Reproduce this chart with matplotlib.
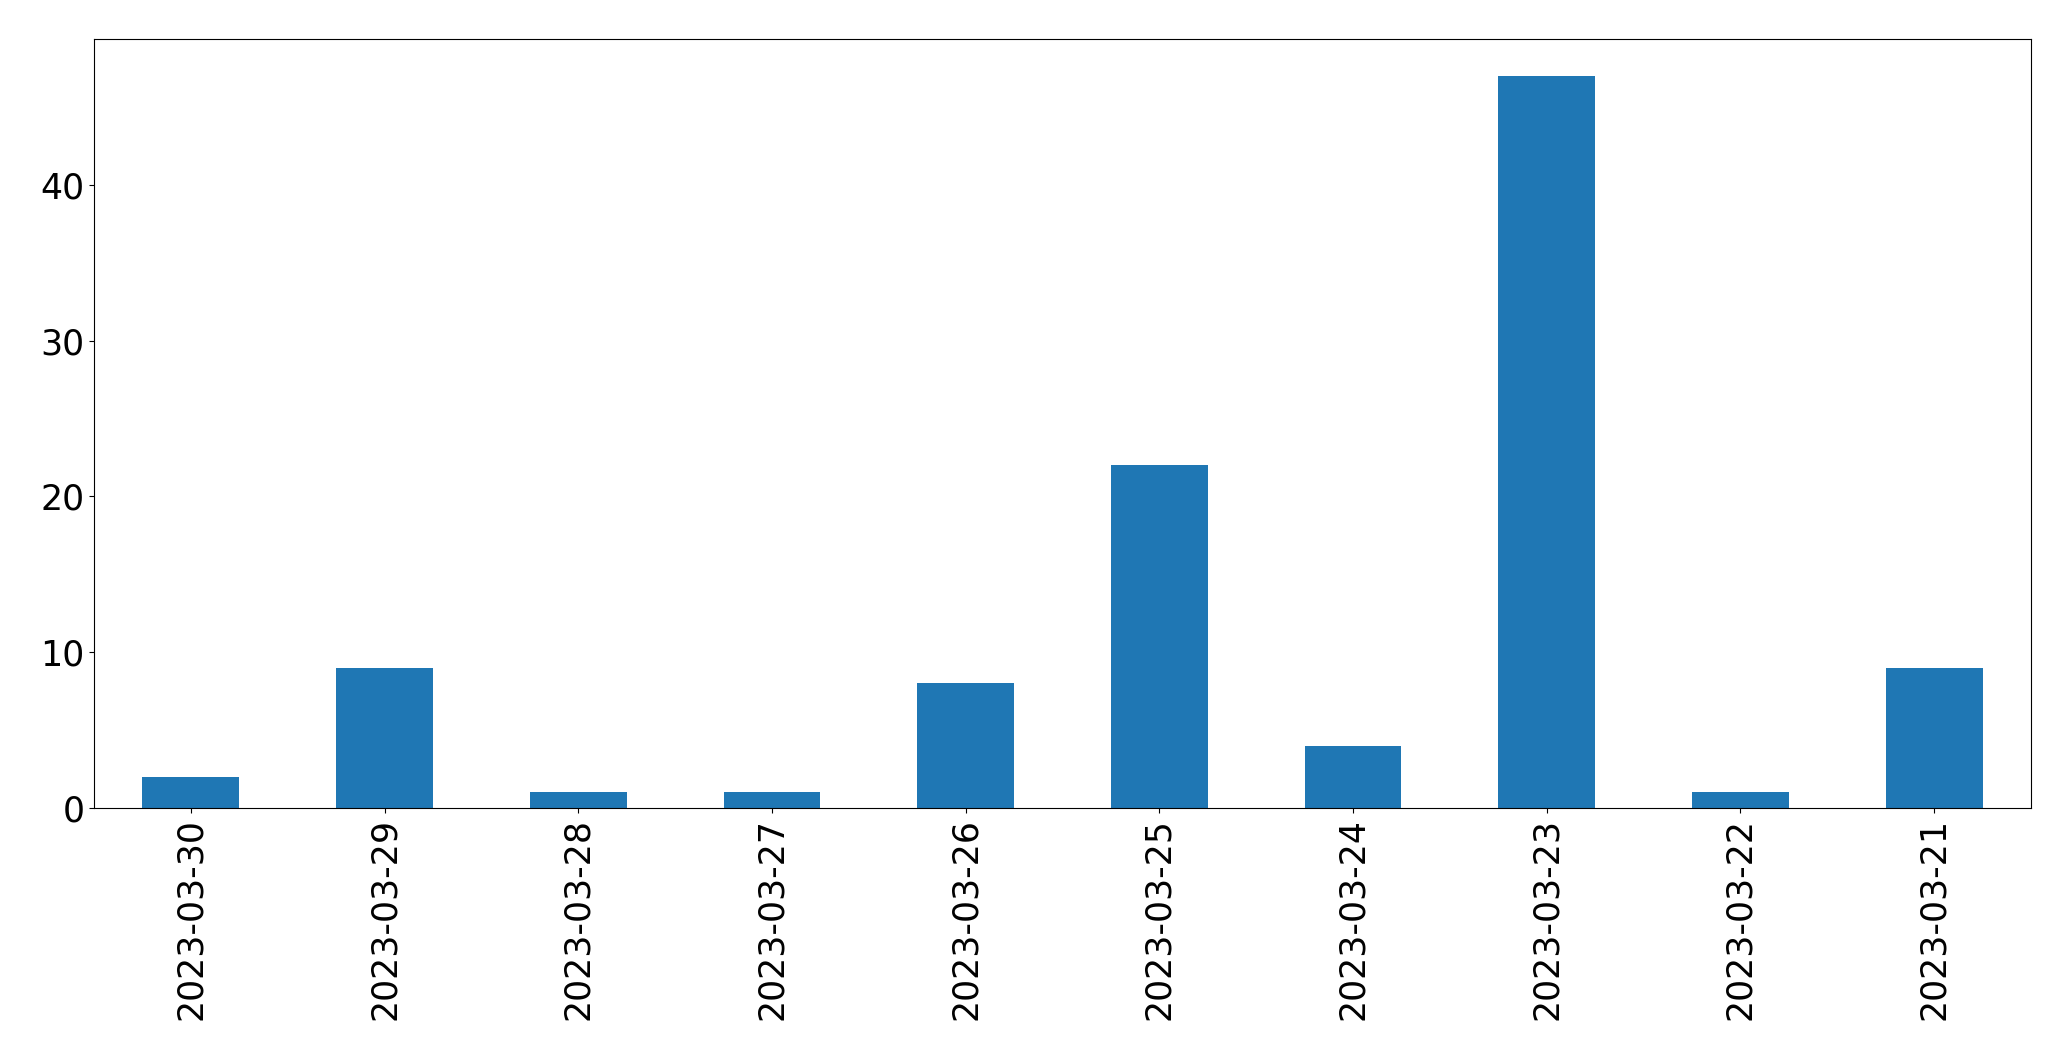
import matplotlib
matplotlib.use('Agg')
import matplotlib.pyplot as plt
import pandas as pd

dates  = ["2023-03-30", "2023-03-29", "2023-03-28", "2023-03-27", "2023-03-26",
          "2023-03-25", "2023-03-24", "2023-03-23", "2023-03-22", "2023-03-21"]
counts = [2, 9, 1, 1, 8, 22, 4, 47, 1, 9]

s = pd.Series(counts, index=dates)

fig = plt.figure(figsize=(20.71, 10.61), dpi=100)
ax = fig.add_axes([94 / 2071, 1 - 808 / 1061, (2031 - 94) / 2071, (808 - 39) / 1061])
s.plot(kind='bar', ax=ax, color='#1f77b4')
ax.tick_params(axis='both', labelsize=25)
ax.set_xlabel('')

fig.savefig('out.png', dpi=100)
